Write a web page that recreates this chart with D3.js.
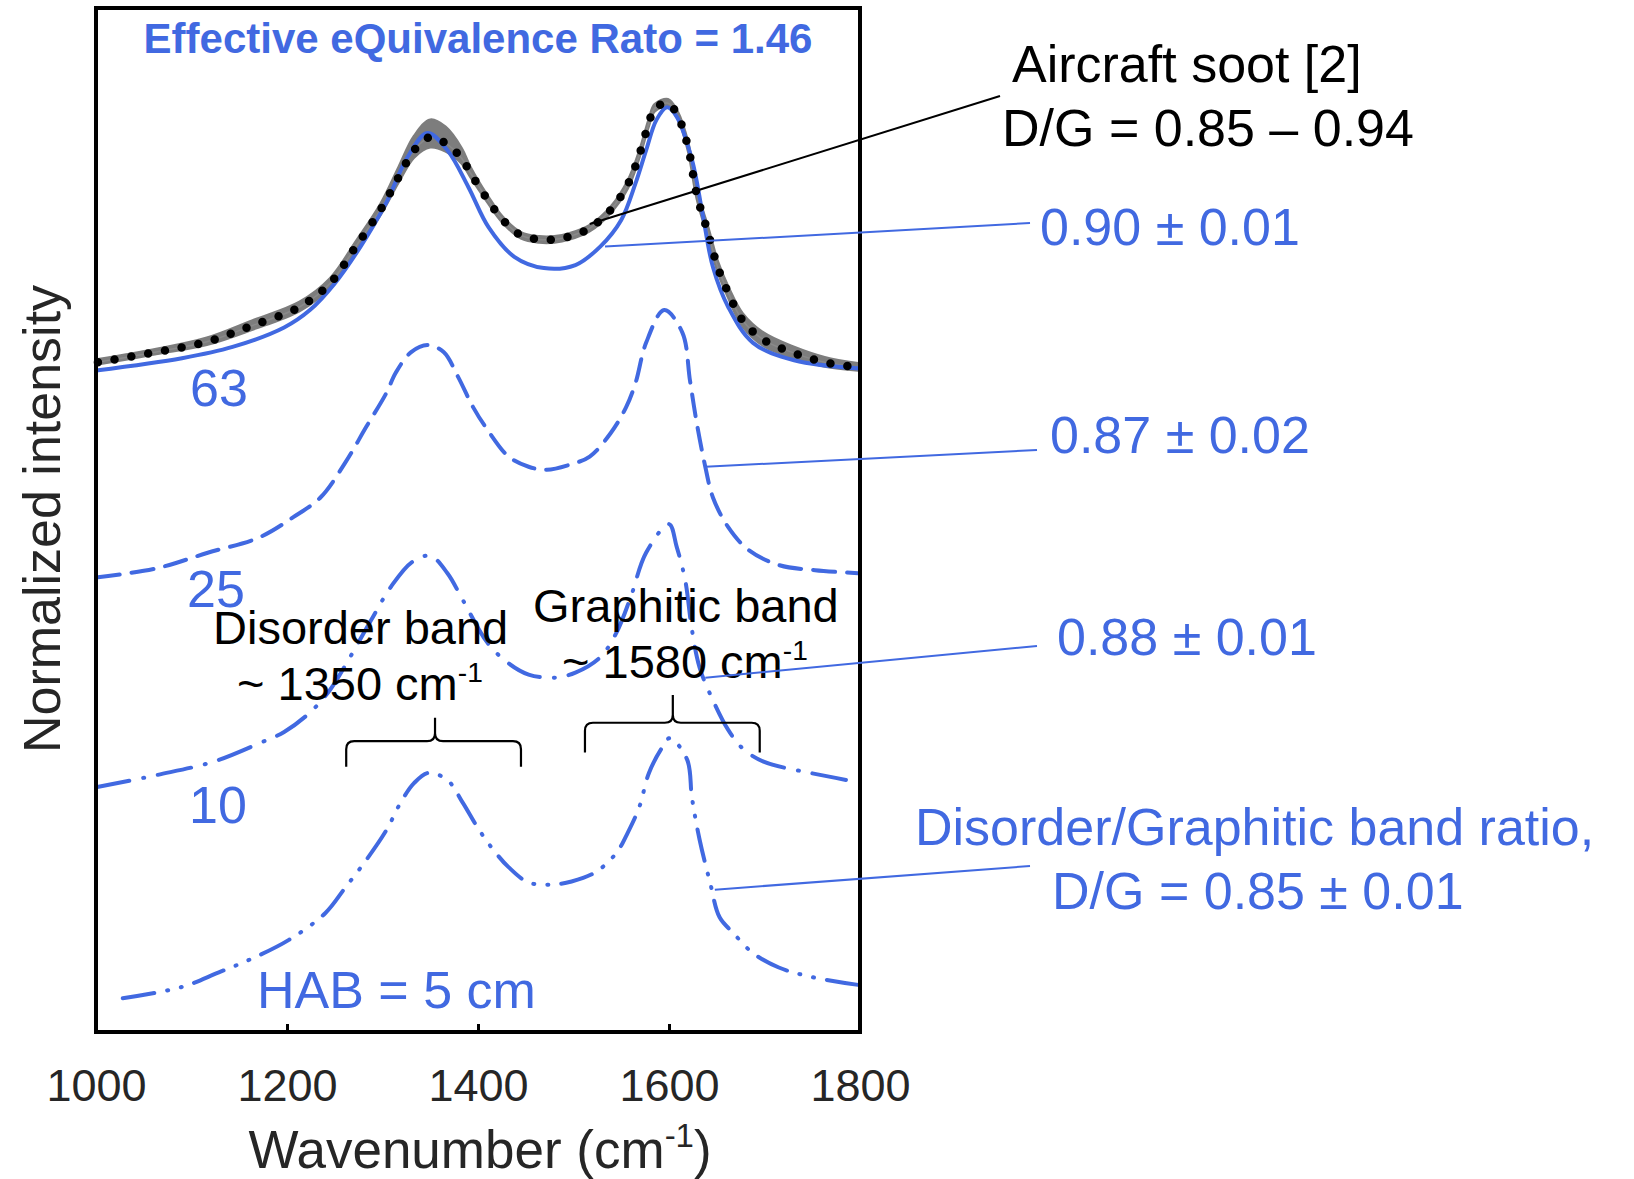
<!DOCTYPE html>
<html>
<head>
<meta charset="utf-8">
<script src="https://cdn.jsdelivr.net/npm/d3@7"></script>
<style>
  html, body { margin: 0; padding: 0; background: #fff; }
  svg { display: block; font-family: "Liberation Sans", Arial, Helvetica, sans-serif; }
</style>
</head>
<body>
<svg id="chart" width="1634" height="1179"></svg>
<script>
// ---------------- DATA ----------------
const xTicks = [1000, 1200, 1400, 1600, 1800];

// HAB = 63 cm (solid)
const hab63Wn = [1000,1090,1143,1197,1224,1250,1277,1304,1326,1347,1368,1390,1411,1438,1469,1502,1528,1550,1565,1576,1587,1598,1608,1624,1635,1646,1662,1688,1731,1800];
const hab63   = [6.46,6.58,6.69,6.88,7.05,7.31,7.67,8.10,8.54,8.78,8.61,8.25,7.86,7.57,7.46,7.49,7.67,7.93,8.29,8.61,8.91,9.03,8.94,8.52,8.00,7.47,7.08,6.73,6.56,6.48];

// Aircraft soot reference (dotted) and its spread band
const sootWn = [1002,1063,1116,1164,1213,1245,1272,1298,1317,1333,1350,1366,1383,1392,1410,1426,1445,1464,1480,1496,1517,1539,1557,1569,1579,1585,1599,1609,1620,1629,1641,1651,1662,1677,1699,1731,1763,1798];
const soot   = [6.54,6.64,6.74,6.90,7.08,7.31,7.67,8.03,8.35,8.61,8.74,8.68,8.53,8.39,8.13,7.93,7.78,7.74,7.74,7.77,7.85,8.03,8.28,8.57,8.88,9.02,9.07,8.95,8.64,8.18,7.80,7.47,7.22,6.95,6.76,6.63,6.54,6.49];
const sootBandHi = [.03,.03,.04,.05,.05,.05,.05,.06,.10,.14,.17,.16,.10,.06,.04,.03,.03,.03,.03,.03,.03,.03,.04,.04,.04,.04,.04,.04,.05,.05,.06,.06,.06,.07,.07,.06,.05,.04];
const sootBandLo = [.02,.02,.03,.04,.04,.04,.04,.05,.05,.07,.10,.08,.05,.04,.03,.03,.03,.03,.03,.03,.03,.03,.04,.03,.03,.03,.03,.03,.04,.04,.05,.05,.05,.06,.06,.05,.04,.03];

// HAB = 25 cm (dashed)
const hab25Wn = [1002,1064,1117,1171,1207,1235,1261,1283,1304,1314,1330,1347,1364,1379,1395,1410,1432,1453,1472,1496,1517,1539,1555,1565,1576,1595,1614,1622,1629,1638,1646,1662,1683,1715,1753,1798];
const hab25   = [4.44,4.53,4.68,4.83,5.03,5.22,5.56,5.91,6.24,6.44,6.64,6.71,6.64,6.40,6.10,5.88,5.62,5.52,5.49,5.54,5.62,5.85,6.10,6.34,6.73,7.05,6.83,6.36,5.95,5.52,5.22,4.93,4.71,4.56,4.51,4.48];

// HAB = 10 cm (dash-dot)
const hab10Wn = [1000,1064,1123,1171,1197,1224,1245,1266,1288,1309,1331,1350,1368,1384,1410,1432,1453,1480,1502,1528,1545,1560,1576,1600,1608,1617,1624,1632,1646,1662,1677,1699,1748,1798];
const hab10   = [2.39,2.51,2.64,2.82,2.93,3.12,3.34,3.66,4.02,4.35,4.59,4.65,4.48,4.22,3.80,3.60,3.49,3.46,3.51,3.66,3.90,4.25,4.68,4.96,4.74,4.41,3.93,3.56,3.24,2.95,2.77,2.64,2.53,2.44];

// HAB = 5 cm (dash-dot-dot)
const hab5Wn = [1028,1090,1128,1164,1202,1240,1261,1283,1304,1319,1333,1348,1368,1384,1400,1416,1432,1453,1477,1498,1523,1545,1557,1569,1579,1593,1601,1619,1624,1632,1643,1653,1667,1688,1715,1748,1798];
const hab5   = [0.33,0.44,0.58,0.72,0.90,1.16,1.41,1.68,1.97,2.24,2.43,2.53,2.46,2.24,1.99,1.78,1.61,1.46,1.44,1.47,1.56,1.75,1.95,2.20,2.53,2.78,2.87,2.66,2.29,1.88,1.46,1.12,0.97,0.77,0.63,0.54,0.46];

const habLabels   = ["63", "25", "10", "HAB = 5 cm"];
const ratioLabels = ["0.90 \u00b1 0.01", "0.87 \u00b1 0.02", "0.88 \u00b1 0.01"];

// ---------------- LAYOUT ----------------
const BLUE = "#4169E1";
const AXIS_GRAY = "#262626";
const W = 1634, H = 1179;
const plot = { left: 96, right: 860, top: 8, bottom: 1032 };

const svg = d3.select("#chart");
svg.append("rect").attr("width", W).attr("height", H).attr("fill", "#fff");

const x = d3.scaleLinear().domain([1000, 1800]).range([plot.left, plot.right]);
const y = d3.scaleLinear().domain([0, 10]).range([plot.bottom, plot.bottom - 1024]);

const zip = (xs, ys) => xs.map((d, i) => [d, ys[i]]);
const line = d3.line().x(d => x(d[0])).y(d => y(d[1])).curve(d3.curveCatmullRom.alpha(0.5));

// soot band
const band = d3.area()
  .x((d, i) => x(sootWn[i]))
  .y0((d, i) => y(soot[i] - sootBandLo[i]))
  .y1((d, i) => y(soot[i] + sootBandHi[i]))
  .curve(d3.curveCatmullRom.alpha(0.5));
svg.append("path").datum(soot).attr("d", band).attr("fill", "#7d7d7d").attr("stroke", "#7d7d7d").attr("stroke-width", 2.5);

// thin gray connecting line for soot
svg.append("path").datum(zip(sootWn, soot)).attr("d", line)
  .attr("fill", "none").attr("stroke", "#8a8a8a").attr("stroke-width", 1.5);

// blue spectra
const series = [
  { wn: hab63Wn, v: hab63, dash: null },
  { wn: hab25Wn, v: hab25, dash: "22,12" },
  { wn: hab10Wn, v: hab10, dash: "34,14,1,14" },
  { wn: hab5Wn,  v: hab5,  dash: "32,13,1,13,1,13" }
];
series.forEach(s => {
  const p = svg.append("path").datum(zip(s.wn, s.v)).attr("d", line)
    .attr("fill", "none").attr("stroke", BLUE).attr("stroke-width", 4)
    .attr("stroke-linecap", "round").attr("stroke-linejoin", "round");
  if (s.dash) p.attr("stroke-dasharray", s.dash);
});

// soot dots
svg.append("path").datum(zip(sootWn, soot)).attr("d", line)
  .attr("fill", "none").attr("stroke", "#000").attr("stroke-width", 8.5)
  .attr("stroke-linecap", "round").attr("stroke-dasharray", "0,17");

// frame
svg.append("rect").attr("x", plot.left).attr("y", plot.top)
  .attr("width", plot.right - plot.left).attr("height", plot.bottom - plot.top)
  .attr("fill", "none").attr("stroke", "#000").attr("stroke-width", 4);

// x axis
const xAxis = d3.axisBottom(x).tickValues(xTicks).tickFormat(d3.format("d"))
  .tickSizeInner(-8).tickSizeOuter(0).tickPadding(37);
const gx = svg.append("g").attr("transform", `translate(0,${plot.bottom})`).call(xAxis);
gx.select(".domain").remove();
gx.selectAll(".tick line").attr("stroke", "#000").attr("stroke-width", 3);
gx.selectAll(".tick text").attr("fill", AXIS_GRAY).style("font-size", "45px")
  .style("font-family", "'Liberation Sans', Arial, sans-serif");

// axis titles
const xt = svg.append("text").attr("x", 480).attr("y", 1168).attr("text-anchor", "middle")
  .attr("fill", AXIS_GRAY).style("font-size", "53px");
xt.append("tspan").text("Wavenumber (cm");
xt.append("tspan").text("-1").attr("dy", -21).style("font-size", "33px");
xt.append("tspan").text(")").attr("dy", 21);

svg.append("text").attr("transform", "translate(60,519) rotate(-90)")
  .attr("text-anchor", "middle").attr("fill", AXIS_GRAY).style("font-size", "52px")
  .text("Normalized intensity");

// title
svg.append("text").attr("x", 478).attr("y", 53).attr("text-anchor", "middle")
  .attr("fill", BLUE).style("font-size", "42px").style("font-weight", "bold")
  .text("Effective eQuivalence Rato = 1.46");

// HAB labels
const habPos = [[190, 406], [187, 607], [189, 823], [257, 1008]];
habLabels.forEach((t, i) => {
  svg.append("text").attr("x", habPos[i][0]).attr("y", habPos[i][1])
    .attr("fill", BLUE).style("font-size", "52px").text(t);
});

// band annotations (black)
function supText(xp, yp, main, sup, size) {
  const t = svg.append("text").attr("x", xp).attr("y", yp).attr("fill", "#000").style("font-size", size + "px");
  t.append("tspan").text(main);
  t.append("tspan").text(sup).attr("dy", -size * 0.38).style("font-size", (size * 0.6) + "px");
  return t;
}
svg.append("text").attr("x", 213).attr("y", 644).attr("fill", "#000").style("font-size", "47px").text("Disorder band");
supText(237, 700, "~ 1350 cm", "-1", 47);
svg.append("text").attr("x", 533).attr("y", 622).attr("fill", "#000").style("font-size", "47px").text("Graphitic band");
supText(562, 678, "~ 1580 cm", "-1", 47);

// braces (in data coords)
const braces = [
  { from: 1262, to: 1445, mid: 1355, level: 2.84, foot: 2.59, tip: 3.07 },
  { from: 1512, to: 1695, mid: 1604, level: 3.02, foot: 2.73, tip: 3.29 }
];
braces.forEach(b => {
  const x0 = x(b.from), x1 = x(b.to), xm = x(b.mid);
  const yl = y(b.level), yf = y(b.foot), yt = y(b.tip);
  const r = 8;
  const p = d3.path();
  p.moveTo(x0, yf);
  p.lineTo(x0, yl + r);
  p.quadraticCurveTo(x0, yl, x0 + r, yl);
  p.lineTo(xm - r, yl);
  p.quadraticCurveTo(xm, yl, xm, yl - r);
  p.lineTo(xm, yt);
  p.moveTo(xm, yl - r);
  p.quadraticCurveTo(xm, yl, xm + r, yl);
  p.lineTo(x1 - r, yl);
  p.quadraticCurveTo(x1, yl, x1, yl + r);
  p.lineTo(x1, yf);
  svg.append("path").attr("d", p.toString()).attr("fill", "none")
    .attr("stroke", "#000").attr("stroke-width", 2.2);
});

// leader lines: inner ends anchored on curves (data coords), outer ends at labels
const leaders = [
  { wn: 1517, v: 7.89, ox: 1000, oy: 96,  color: "#000" },
  { wn: 1533, v: 7.67, ox: 1030, oy: 223, color: BLUE },
  { wn: 1638, v: 5.52, ox: 1037, oy: 450, color: BLUE },
  { wn: 1638, v: 3.46, ox: 1037, oy: 646, color: BLUE },
  { wn: 1648, v: 1.39, ox: 1030, oy: 866, color: BLUE }
];
leaders.forEach(l => {
  svg.append("line").attr("x1", x(l.wn)).attr("y1", y(l.v)).attr("x2", l.ox).attr("y2", l.oy)
    .attr("stroke", l.color).attr("stroke-width", 2);
});

// right-side labels
svg.append("text").attr("x", 1012).attr("y", 82).attr("fill", "#000").style("font-size", "52px").text("Aircraft soot [2]");
svg.append("text").attr("x", 1002).attr("y", 146).attr("fill", "#000").style("font-size", "52px").text("D/G = 0.85 \u2013 0.94");

const ratioPos = [[1040, 245], [1050, 453], [1057, 655]];
ratioLabels.forEach((t, i) => {
  svg.append("text").attr("x", ratioPos[i][0]).attr("y", ratioPos[i][1])
    .attr("fill", BLUE).style("font-size", "52px").text(t);
});
svg.append("text").attr("x", 915).attr("y", 845).attr("fill", BLUE).style("font-size", "52px").text("Disorder/Graphitic band ratio,");
svg.append("text").attr("x", 1052).attr("y", 909).attr("fill", BLUE).style("font-size", "52px").text("D/G = 0.85 \u00b1 0.01");
</script>
</body>
</html>
